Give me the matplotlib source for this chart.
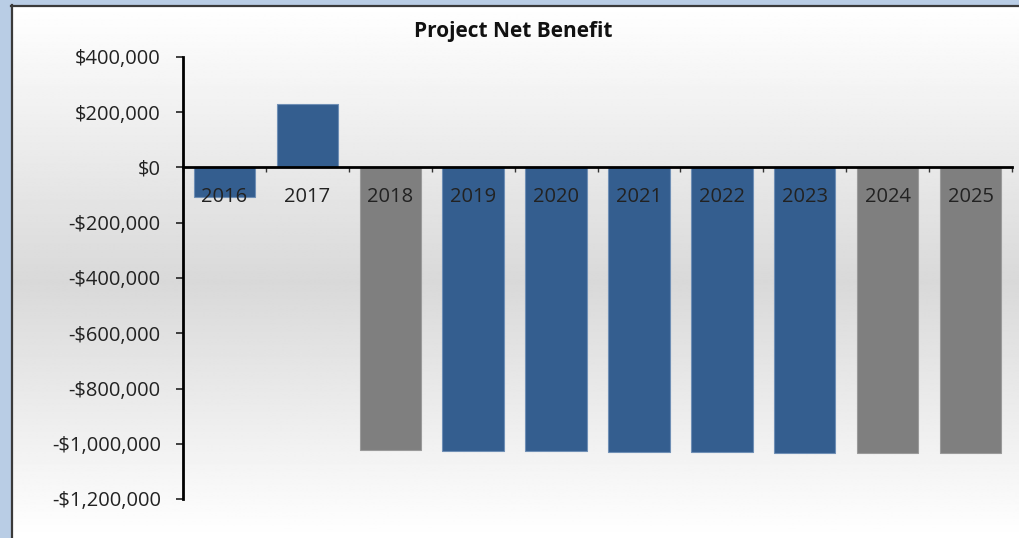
import matplotlib
matplotlib.use("Agg")
import matplotlib.pyplot as plt
import numpy as np
from matplotlib.ticker import FuncFormatter, FixedLocator
from matplotlib.patches import Rectangle
from matplotlib.lines import Line2D

# Data
years = ["2016", "2017", "2018", "2019", "2020", "2021", "2022", "2023", "2024", "2025"]
net_benefit = [-108000, 231000, -1022000, -1027000, -1028000, -1031000,
               -1030000, -1033000, -1033000, -1033000]
# which years are shown in the grey style
grey_years = ["2018", "2024", "2025"]

y_ticks = [400000, 200000, 0, -200000, -400000, -600000, -800000, -1000000, -1200000]
title = "Project Net Benefit"

BLUE = "#345e8f"
GREY = "#7f7f7f"
FONT = ["Open Sans", "DejaVu Sans"]
plt.rcParams["font.family"] = FONT

W, H = 1019, 538
fig = plt.figure(figsize=(W / 100, H / 100), dpi=100)

# Window frame: light blue strip left and top
fig.patches.append(Rectangle((0, 0), 1, 1, transform=fig.transFigure,
                             facecolor="#b9cde5", edgecolor="none", zorder=-10))

# Chart area with a vertical white-grey-white gradient
bg = fig.add_axes([11 / W, 0, 1 - 11 / W, 1 - 5 / H], zorder=-5)
yy = np.linspace(0, 1, 400)
top_v, mid_v, bot_v = 1.0, 0.85, 1.0
mid_pos = 0.52
vals = np.where(yy < mid_pos,
                top_v + (mid_v - top_v) * yy / mid_pos,
                mid_v + (bot_v - mid_v) * (yy - mid_pos) / (1 - mid_pos))
grad = np.repeat(vals[:, None], 2, axis=1)
bg.imshow(grad, cmap="gray", vmin=0, vmax=1, aspect="auto",
          extent=[0, 1, 0, 1], origin="upper", interpolation="bilinear")
bg.set_xlim(0, 1)
bg.set_ylim(0, 1)
bg.axis("off")
# dark frame edges of the chart area
fig.lines.append(Line2D([11.5 / W, 11.5 / W], [0, 1 - 5 / H], transform=fig.transFigure,
                        color="#3a3a3a", lw=1.6, zorder=-4))
fig.lines.append(Line2D([11 / W, 1], [1 - 5.5 / H, 1 - 5.5 / H], transform=fig.transFigure,
                        color="#3a3a3a", lw=1.6, zorder=-4))

# Plot area
left, right = 183 / W, 1012 / W
top, bottom = 1 - 57 / H, 1 - 499 / H
ax = fig.add_axes([left, bottom, right - left, top - bottom])
ax.patch.set_alpha(0)

x = np.arange(len(years))
colors = [GREY if y in grey_years else BLUE for y in years]
edges = ["#9a9a9a" if y in grey_years else "#6f8fb5" for y in years]
ax.bar(x, net_benefit, width=0.74, color=colors, edgecolor=edges, linewidth=0.8, zorder=1)

ax.set_xlim(-0.5, len(years) - 0.5)
ax.set_ylim(min(y_ticks), max(y_ticks))

# Axes lines
for s in ["top", "right"]:
    ax.spines[s].set_visible(False)
ax.spines["bottom"].set_position(("data", 0))
ax.spines["bottom"].set_linewidth(2.0)
ax.spines["left"].set_linewidth(2.0)
ax.spines["bottom"].set_zorder(3)
ax.spines["left"].set_zorder(3)

ax.set_yticks(y_ticks)
ax.yaxis.set_major_formatter(FuncFormatter(
    lambda v, p: ("-" if v < 0 else "") + "${:,.0f}".format(abs(v))))
ax.tick_params(axis="y", direction="out", length=5, width=1.2, pad=11,
               labelsize=14.5, labelcolor="#222222", color="#222222")

ax.set_xticks(x)
ax.set_xticklabels(years)
ax.xaxis.set_minor_locator(FixedLocator(np.arange(-0.5, len(years), 1.0)))
ax.tick_params(axis="x", which="major", length=0, pad=14,
               labelsize=14.5, labelcolor="#222222")
ax.tick_params(axis="x", which="minor", direction="out", length=3.5, width=1.0,
               color="#333333")

fig.text(513 / W, 1 - 31 / H, title, ha="center", va="center",
         fontsize=15, fontweight="bold", color="#111111")

fig.savefig("out.png", dpi=100)
